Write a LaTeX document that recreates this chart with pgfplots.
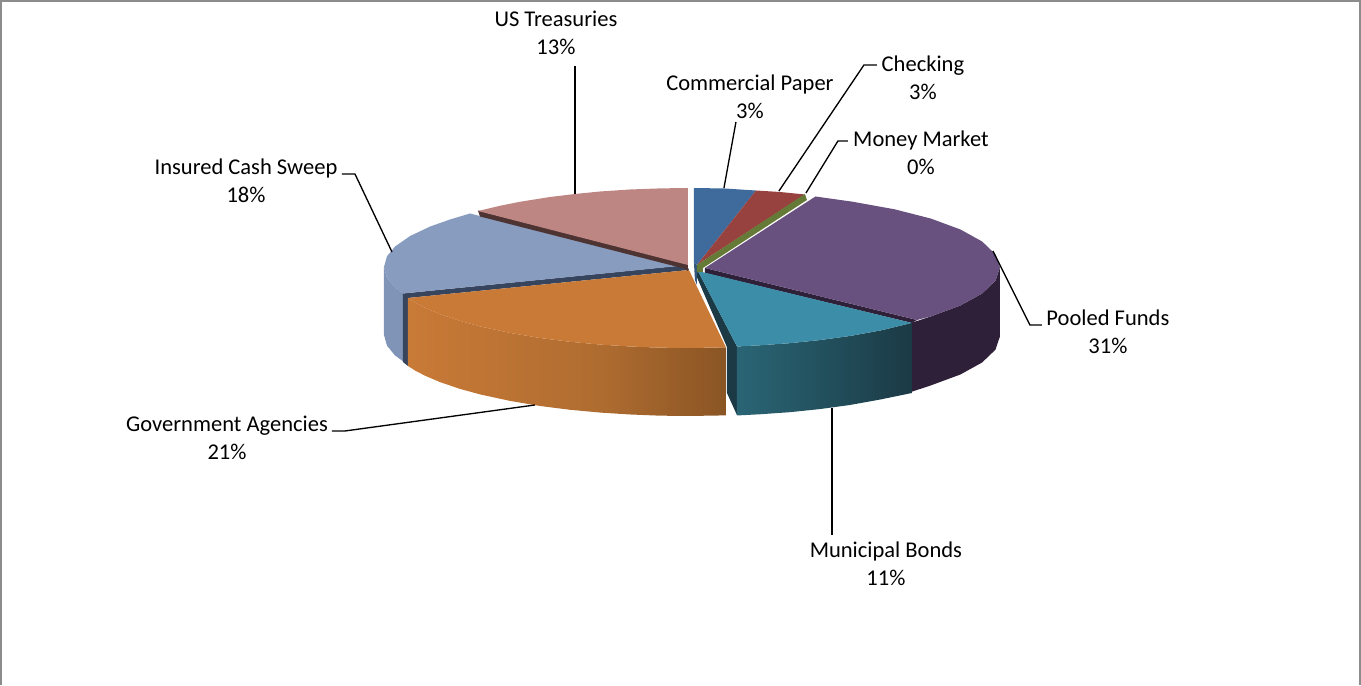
\documentclass[border=0pt]{standalone}
\usepackage{pgfplots}
\pgfplotsset{compat=1.18}
\usepackage{fontspec}
\setmainfont{Carlito}
% slice colours
\definecolor{cpaper}{HTML}{3F6B9C}
\definecolor{checking}{HTML}{984240}
\definecolor{mmarket}{HTML}{657A36}
\definecolor{pooledT}{HTML}{69517F}
\definecolor{pooledS}{HTML}{2E2039}
\definecolor{muniT}{HTML}{3C8DA7}
\definecolor{muniA}{HTML}{2A6575}
\definecolor{muniB}{HTML}{1F4652}
\definecolor{muniC}{HTML}{1B3A45}
\definecolor{govT}{HTML}{C97A37}
\definecolor{govA}{HTML}{C27734}
\definecolor{govB}{HTML}{AF6C30}
\definecolor{govC}{HTML}{8A5524}
\definecolor{sweepT}{HTML}{879CBF}
\definecolor{sweepS}{HTML}{7F94B7}
\definecolor{sweepI}{HTML}{36445E}
\definecolor{treasT}{HTML}{BE8683}
\definecolor{treasI}{HTML}{4E3333}
\definecolor{frame}{HTML}{8C8C8C}
\tikzset{lbl/.style={font=\fontsize{16.9pt}{21pt}\selectfont, align=center, text=black, inner sep=0pt}}
\begin{document}
\begin{tikzpicture}
\begin{axis}[
  scale only axis, width=1020.75pt, height=513.75pt,
  xmin=0, xmax=1361, ymin=0, ymax=685, y dir=reverse,
  hide axis, clip=false,
  leader/.style={draw=black, line width=1pt},
  face/.style={draw=none, fill=#1},
]
% outer frame: top, left and right sides
\addplot[draw=frame, line width=1.2pt] coordinates {(1,685) (1,1) (1360.3,1) (1360.3,685)};

% Pooled Funds
\addplot[face=pooledS] coordinates {(1000,267.5) (995.5,280.7) (982.2,293.5) (960.5,305.5) (931,316.4) (905,325)
  (905,394) (931,385.4) (960.5,374.5) (982.2,362.5) (995.5,349.7) (1000,336.5)} -- cycle;
\addplot[face=pooledS] coordinates {(705,268) (917,320) (912,323) (705,273)} -- cycle;
\addplot[face=pooledT] coordinates {(705,268) (815.5,196.5) (852.5,201.7) (894.6,209.3) (931,218.6) (960.5,229.5)
  (982.2,241.5) (995.5,254.3) (1000,267.5) (995.5,280.7) (982.2,293.5) (960.5,305.5) (931,316.4) (917,320)} -- cycle;

% Municipal Bonds
\addplot[face=muniC] coordinates {(698,271) (696,275) (727,347) (727,393) (737,415) (737,346.5)} -- cycle;
\addplot[draw=none, shade, shading=axis, left color=muniA, middle color=muniB, right color=muniC]
  coordinates {(737,346.5) (760,345.3) (790,343.2) (820,340.1) (850,336) (880,330.6) (912,323)
  (912,393) (880,399.6) (850,405) (820,409.1) (790,412.2) (760,414.3) (737,415.5)} -- cycle;
\addplot[face=muniT] coordinates {(698,271) (737,346.5) (760,345.3) (790,343.2) (820,340.1) (850,336) (880,330.6) (912,323)} -- cycle;

% Insured Cash Sweep
\addplot[face=sweepS] coordinates {(384,267) (387,277.7) (395,287.4) (404,294) (404,362) (395,355.4) (387,345.7) (384,335)} -- cycle;
\addplot[face=sweepI] coordinates {(403,293.5) (687,265) (689,270) (408,298) (408,366) (403,362)} -- cycle;
\addplot[face=sweepT] coordinates {(470,213.5) (450,219.5) (430,226.6) (410,236.1) (395,246.6) (387,256.3) (384,267)
  (387,277.7) (395,287.4) (403,293.5) (684,265.5) (684,268)} -- cycle;

% Government Agencies: the rim darkens towards the right
\addplot[draw=none, shade, shading=axis, left color=govT, middle color=govA, right color=govB]
  coordinates {(408,298) (415,302.5) (425,307.7) (440,314.1) (460,320.9) (480,326.4) (510,332.9) (540,338)
  (570,341.8) (600.5,344.6)
  (600.5,412.6) (570,409.8) (540,406) (510,400.9) (480,394.4)
  (460,388.9) (440,382.1) (425,375.7) (415,370.5) (408,366)} -- cycle;
\addplot[draw=none, shade, shading=axis, left color=govB, right color=govC]
  coordinates {(600,344.6) (630,346.5) (660,347.7) (690,348) (726,347.4)
  (726,415.4) (690,416) (660,415.7) (630,414.5) (600,412.6)} -- cycle;
\addplot[face=govT] coordinates {(408,298) (689,270) (726,347.4) (690,348) (660,347.7) (630,346.5) (600,344.6)
  (570,341.8) (540,338) (510,332.9) (480,326.4) (460,320.9) (440,314.1) (425,307.7) (415,302.5)} -- cycle;

% US Treasuries
\addplot[face=treasI] coordinates {(478,210.5) (688,264.5) (688,271) (684,268.5) (480,216.5)} -- cycle;
\addplot[face=treasT] coordinates {(478,211) (500,205.8) (520,201.8) (550,197) (575,194) (600,191.5) (630,189.5)
  (660,188.4) (688,188) (688,265)} -- cycle;

% Commercial Paper, Checking, Money Market
\addplot[face=cpaper!80!black] coordinates {(694,263) (697,265) (697,285) (695,280)} -- cycle;
\addplot[face=cpaper] coordinates {(694,263) (694,188) (725,188.5) (740,189.5) (756,190.5) (697,265)} -- cycle;
\addplot[face=checking] coordinates {(697,265) (756,190.5) (780,192) (805,194.5)} -- cycle;
\addplot[face=mmarket] coordinates {(697,265) (805,194) (807,200) (703,268) (703,272) (697,272)} -- cycle;

% leader lines
\addplot[leader] coordinates {(575,66) (575,194)};
\addplot[leader] coordinates {(736,122) (724,188)};
\addplot[leader] coordinates {(877,65) (864,65) (779,191)};
\addplot[leader] coordinates {(848,141) (838,141) (806,193)};
\addplot[leader] coordinates {(1042,325) (1030,325) (993,251)};
\addplot[leader] coordinates {(832,408) (832,535)};
\addplot[leader] coordinates {(332,431) (345,431) (535,405)};
\addplot[leader] coordinates {(342,174) (355,174) (392,252)};

% data labels
\node[lbl] at (axis cs:556,32.5) {US Treasuries\\13\%};
\node[lbl] at (axis cs:750,96.5) {Commercial Paper\\3\%};
\node[lbl] at (axis cs:923,77.5) {Checking\\3\%};
\node[lbl] at (axis cs:921,152.5) {Money Market\\0\%};
\node[lbl] at (axis cs:1108,331.5) {Pooled Funds\\31\%};
\node[lbl] at (axis cs:886,563.5) {Municipal Bonds\\11\%};
\node[lbl] at (axis cs:227,437.5) {Government Agencies\\21\%};
\node[lbl] at (axis cs:246,180.5) {Insured Cash Sweep\\18\%};
\end{axis}
\path[use as bounding box] (0,0) rectangle (1020.75pt,513.75pt);
\end{tikzpicture}
\end{document}
